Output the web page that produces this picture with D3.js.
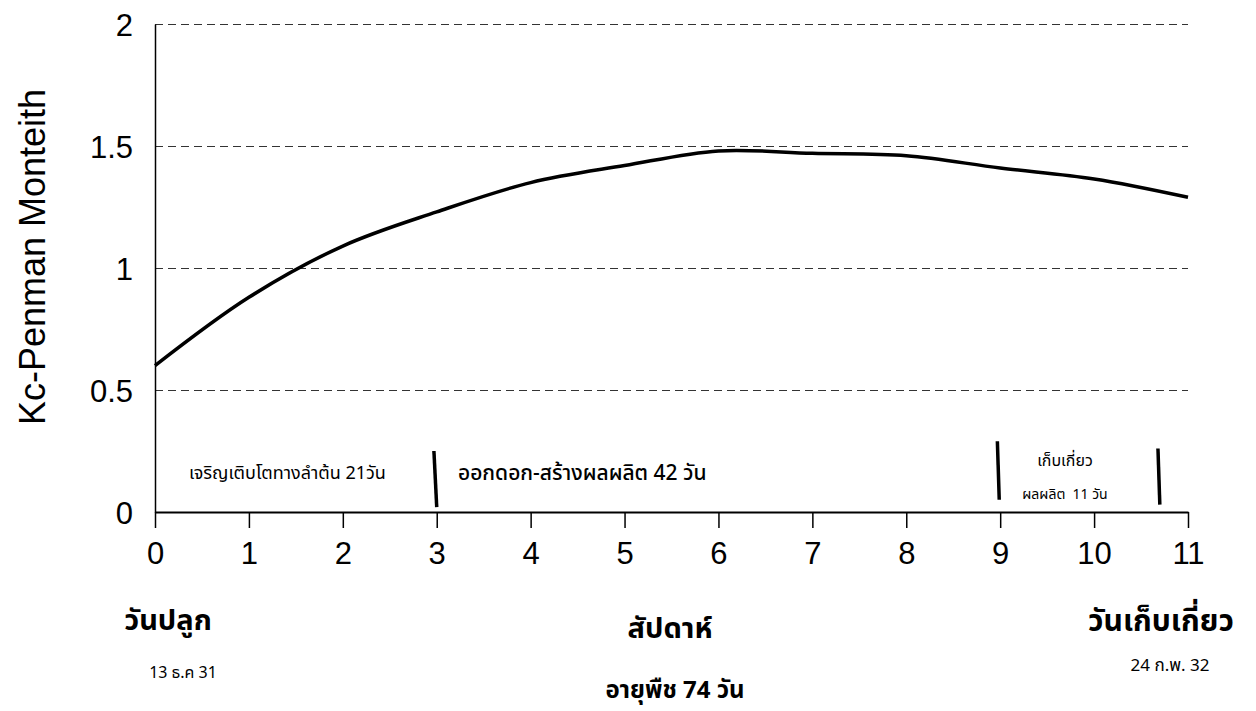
<!DOCTYPE html>
<html>
<head>
<meta charset="utf-8">
<script src="https://cdn.jsdelivr.net/npm/d3@7"></script>
<style>
  body { margin: 0; background: #fff; }
  text { font-family: Arial, "Liberation Sans", sans-serif; fill: #000; }
  .thai { font-family: "Noto Sans Thai", "Noto Sans", "DejaVu Sans", sans-serif; }
</style>
</head>
<body>
<svg></svg>
<script>
// weeks after planting and Kc (Penman-Monteith)
const weeks = [0, 1, 2, 3, 4, 5, 6, 7, 8, 9, 10, 11];
const kc = [0.60, 0.88, 1.09, 1.23, 1.35, 1.42, 1.48, 1.47, 1.46, 1.41, 1.365, 1.29];
const yTicks = [0, 0.5, 1, 1.5, 2];

// growth stage dividers (week, top, bottom)
const dividers = [
    { x0: 2.97, y0: 0.25, x1: 3.0, y1: 0.02 },
    { x0: 8.97, y0: 0.29, x1: 8.99, y1: 0.05 },
    { x0: 10.68, y0: 0.26, x1: 10.7, y1: 0.03 }
];

const svgWidth = 1256;
const svgHeight = 711;
const margin = { top: 24, right: 68, bottom: 199, left: 155 };
const width = svgWidth - margin.left - margin.right;
const height = svgHeight - margin.top - margin.bottom;

const svg = d3.select('svg')
    .attr('width', svgWidth)
    .attr('height', svgHeight);

const g = svg.append('g')
    .attr('transform', `translate(${margin.left}, ${margin.top})`);

const x = d3.scaleLinear().domain([0, 11]).range([0, width]);
const y = d3.scaleLinear().domain([0, 2]).range([height, 0]);

// dashed gridlines
g.selectAll('.grid')
    .data(yTicks.filter(d => d > 0))
    .enter().append('line')
    .attr('x1', 0)
    .attr('x2', width)
    .attr('y1', d => Math.round(y(d)) + 0.5)
    .attr('y2', d => Math.round(y(d)) + 0.5)
    .attr('stroke', '#333')
    .attr('stroke-width', 1)
    .attr('stroke-dasharray', '8,5');

// y axis
const yAxis = g.append('g')
    .call(d3.axisLeft(y).tickValues(yTicks).tickSize(0).tickPadding(22).tickFormat(d3.format('')));
yAxis.select('.domain').attr('stroke', '#000').attr('stroke-width', 1.5);
yAxis.selectAll('text')
    .attr('font-size', '31px')
    .attr('dy', '0.36em')
    .style('font-family', 'Arial, "Liberation Sans", sans-serif');

// x axis
const xAxis = g.append('g')
    .attr('transform', `translate(0, ${height})`)
    .call(d3.axisBottom(x).tickValues(weeks).tickSize(16).tickSizeOuter(0).tickPadding(14));
xAxis.select('.domain').attr('stroke', '#000').attr('stroke-width', 2);
xAxis.selectAll('.tick line').attr('stroke', '#000').attr('stroke-width', 1.5);
xAxis.selectAll('text')
    .attr('font-size', '31px')
    .style('font-family', 'Arial, "Liberation Sans", sans-serif');

// Kc curve
const line = d3.line()
    .x((d, i) => x(weeks[i]))
    .y(d => y(d))
    .curve(d3.curveCatmullRom.alpha(0.5));

g.append('path')
    .datum(kc)
    .attr('d', line)
    .attr('fill', 'none')
    .attr('stroke', '#000')
    .attr('stroke-width', 3.5);

// stage dividers
g.selectAll('.divider')
    .data(dividers)
    .enter().append('line')
    .attr('x1', d => x(d.x0))
    .attr('y1', d => y(d.y0))
    .attr('x2', d => x(d.x1))
    .attr('y2', d => y(d.y1))
    .attr('stroke', '#000')
    .attr('stroke-width', 3.5);

// stage labels
const stageLabels = [
    { text: 'เจริญเติบโตทางลำต้น 21วัน', x: 1.41, y: 0.16, size: 18, weight: 'normal' },
    { text: 'ออกดอก-สร้างผลผลิต 42 วัน', x: 4.55, y: 0.16, size: 21, weight: 500 },
    { text: 'เก็บเกี่ยว', x: 9.69, y: 0.21, size: 16, weight: 'normal' },
    { text: 'ผลผลิต  11 วัน', x: 9.69, y: 0.075, size: 14, weight: 'normal' }
];
g.selectAll('.stage')
    .data(stageLabels)
    .enter().append('text')
    .attr('class', 'thai')
    .attr('x', d => x(d.x))
    .attr('y', d => y(d.y))
    .attr('dy', '0.35em')
    .attr('text-anchor', 'middle')
    .attr('font-size', d => d.size + 'px')
    .attr('font-weight', d => d.weight)
    .style('white-space', 'pre')
    .text(d => d.text);

// y axis title
svg.append('text')
    .attr('transform', 'translate(45, 257) rotate(-90)')
    .attr('text-anchor', 'middle')
    .attr('font-size', '36px')
    .text('Kc-Penman Monteith');

// bottom labels
const bottomLabels = [
    { text: 'วันปลูก', x: 168, y: 620, size: 29, bold: true },
    { text: 'สัปดาห์', x: 670, y: 628, size: 29, bold: true },
    { text: 'วันเก็บเกี่ยว', x: 1161, y: 620, size: 30, bold: true },
    { text: '13 ธ.ค 31', x: 183, y: 672, size: 16, bold: false },
    { text: '24 ก.พ. 32', x: 1170, y: 665, size: 17, bold: false },
    { text: 'อายุพืช 74 วัน', x: 675, y: 690, size: 24, bold: true }
];
svg.selectAll('.bottom')
    .data(bottomLabels)
    .enter().append('text')
    .attr('class', 'thai')
    .attr('x', d => d.x)
    .attr('y', d => d.y)
    .attr('dy', '0.35em')
    .attr('text-anchor', 'middle')
    .attr('font-size', d => d.size + 'px')
    .attr('font-weight', d => d.bold ? 'bold' : 'normal')
    .text(d => d.text);
</script>
</body>
</html>
